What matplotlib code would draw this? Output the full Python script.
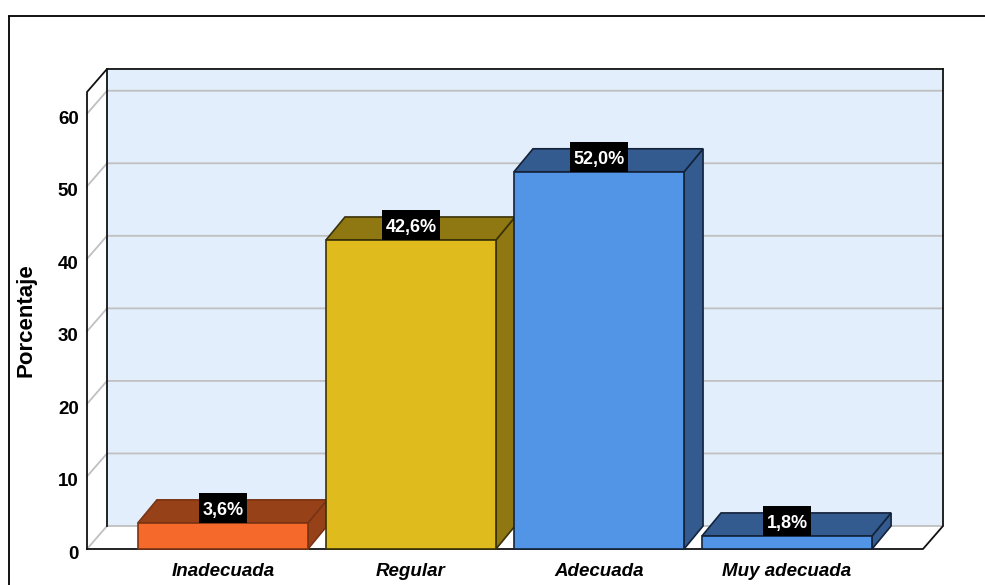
"""Porcentaje por categoria: barras con efecto 3D dibujadas a mano."""
import matplotlib
matplotlib.use("Agg")
import matplotlib.pyplot as plt
from matplotlib.lines import Line2D
from matplotlib.patches import Polygon, Rectangle
from matplotlib.transforms import ScaledTranslation

plt.rcParams["font.family"] = ["Liberation Sans", "DejaVu Sans"]

categories = ["Inadecuada", "Regular", "Adecuada", "Muy adecuada"]
values = [3.6, 42.6, 52.0, 1.8]
bar_labels = ["3,6%", "42,6%", "52,0%", "1,8%"]
y_ticks = [0, 10, 20, 30, 40, 50, 60]

front_colors = ["#F5692B", "#E0BB1E", "#5295E6", "#5295E6"]
dark_colors = ["#974119", "#8F7712", "#335B8F", "#335B8F"]
edge_colors = ["#7A3414", "#3A3208", "#14233A", "#14233A"]

W, H = 985, 585
fig = plt.figure(figsize=(W / 100, H / 100), dpi=100, facecolor="white")

# marco de la imagen, cortado a la derecha y abajo
fig.add_artist(Line2D([8.5 / W, 8.5 / W], [0, 1 - 16 / H], color="black", lw=1.3, solid_capstyle="butt"))
fig.add_artist(Line2D([8 / W, 1], [1 - 16 / H, 1 - 16 / H], color="black", lw=1.3, solid_capstyle="butt"))

# plano frontal en pixeles: x 87-923, y 92-549
ax = fig.add_axes([87 / W, 1 - 549 / H, 836 / W, 457 / H])
ax.patch.set_visible(False)
ax.set_xlim(-0.723, 3.723)
ax.set_ylim(0, 63)
for s in ax.spines.values():
    s.set_visible(False)

x0, x1 = ax.get_xlim()
y0, y1 = ax.get_ylim()
dx = 20 / 188      # profundidad en unidades de datos
dy = 23 / 7.25
bar_dx = 19 / 188
bar_w = 170 / 188


def poly(pts, fc, ec="none", lw=1.2, z=1):
    ax.add_patch(Polygon(pts, closed=True, fc=fc, ec=ec, lw=lw, zorder=z,
                         clip_on=False, joinstyle="miter"))


# paredes y suelo
poly([(x0 + dx, y0 + dy), (x1 + dx, y0 + dy), (x1 + dx, y1 + dy), (x0 + dx, y1 + dy)], "#E2EEFB", z=1)
poly([(x0, y0), (x1, y0), (x1 + dx, y0 + dy), (x0 + dx, y0 + dy)], "white", z=1)

for t in y_ticks:
    ax.plot([x0, x0 + dx, x1 + dx], [t, t + dy, t + dy], color="#C0C0C0", lw=1.3, zorder=2, clip_on=False)

edge = "#111111"
ax.plot([x0 + dx, x0 + dx], [y0 + dy, y1 + dy], color=edge, lw=1.3, zorder=3, clip_on=False)
ax.plot([x0, x0, x0 + dx, x1 + dx], [y0, y1, y1 + dy, y1 + dy], color=edge, lw=1.3, zorder=3, clip_on=False)
ax.plot([x1 + dx, x1 + dx, x1, x0], [y1 + dy, y0 + dy, y0, y0], color=edge, lw=1.3, zorder=3, clip_on=False)

# barras
for i, v in enumerate(values):
    lft, rgt = i - bar_w / 2, i + bar_w / 2
    z = 4 + i
    poly([(rgt, 0), (rgt + bar_dx, dy), (rgt + bar_dx, v + dy), (rgt, v)], dark_colors[i], edge_colors[i], z=z)
    poly([(lft, v), (rgt, v), (rgt + bar_dx, v + dy), (lft + bar_dx, v + dy)], dark_colors[i], edge_colors[i], z=z)
    poly([(lft, 0), (rgt, 0), (rgt, v), (lft, v)], front_colors[i], edge_colors[i], z=z)

# etiquetas de valor sobre caja negra
renderer = fig.canvas.get_renderer()
box_h = 30 / 7.25
for i, v in enumerate(values):
    txt = ax.text(i, v + box_h / 2 - 3 / 7.25, bar_labels[i], color="white", fontsize=13,
                  fontweight="bold", ha="center", va="center", zorder=21, clip_on=False)
    tw = txt.get_window_extent(renderer).width + 7
    box_w = tw / 188
    ax.add_patch(Rectangle((i - box_w / 2, v - 0.5 / 7.25), box_w, box_h, fc="black", ec="none",
                           zorder=20, clip_on=False))

ax.set_yticks(y_ticks)
ax.set_yticklabels([str(t) for t in y_ticks], fontsize=13.5, fontweight="bold")
ax.set_xticks(range(len(categories)))
ax.set_xticklabels(categories, fontsize=13.5, fontweight="bold", fontstyle="italic")
ax.tick_params(axis="both", length=0)
ax.tick_params(axis="y", pad=6)
ax.tick_params(axis="x", pad=10)
shift = ScaledTranslation(0, -2.5 / 72, fig.dpi_scale_trans)
for lab in ax.get_yticklabels():
    lab.set_transform(lab.get_transform() + shift)

fig.text(26.5 / W, 1 - 320 / H, "Porcentaje", rotation=90, fontsize=16, fontweight="bold",
         ha="center", va="center")

fig.savefig("out.png", dpi=100)
